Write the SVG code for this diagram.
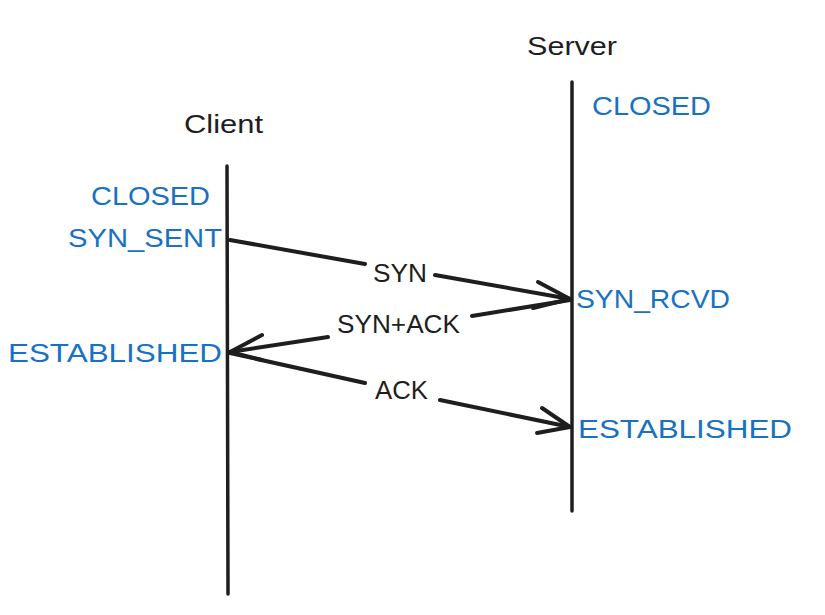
<svg xmlns="http://www.w3.org/2000/svg" width="825" height="615" viewBox="0 0 825 615">
<style>
.lbl{font-family:"Liberation Sans",Arial,sans-serif;font-size:26px;fill:#1e1e1e}
.st{font-family:"Liberation Sans",Arial,sans-serif;font-size:26px;fill:#1971c2}
.life{stroke:#1e1e1e;stroke-width:3.5;stroke-linecap:round;fill:none}
.msg{stroke:#1e1e1e;stroke-width:4;stroke-linecap:round;stroke-linejoin:round;fill:none}
</style>
<rect width="825" height="615" fill="#ffffff"/>
<g id="client">
<line class="life" x1="227" y1="166" x2="228" y2="594"/>
<text class="lbl" x="184" y="133" textLength="79" lengthAdjust="spacingAndGlyphs">Client</text>
<text class="st" x="91" y="205" textLength="119" lengthAdjust="spacingAndGlyphs">CLOSED</text>
<text class="st" x="68" y="247" textLength="154" lengthAdjust="spacingAndGlyphs">SYN_SENT</text>
<text class="st" x="8" y="362" textLength="214" lengthAdjust="spacingAndGlyphs">ESTABLISHED</text>
</g>
<g id="server">
<line class="life" x1="572" y1="82" x2="572" y2="511"/>
<text class="lbl" x="527" y="55" textLength="90" lengthAdjust="spacingAndGlyphs">Server</text>
<text class="st" x="592" y="115" textLength="119" lengthAdjust="spacingAndGlyphs">CLOSED</text>
<text class="st" x="576" y="308" textLength="154" lengthAdjust="spacingAndGlyphs">SYN_RCVD</text>
<text class="st" x="578" y="438" textLength="214" lengthAdjust="spacingAndGlyphs">ESTABLISHED</text>
</g>
<g id="connectors">
<g id="syn">
<path class="msg" d="M230 240 L365 264 M435 275 L570 299"/>
<path class="msg" d="M538 282 L570 299 L533 308"/>
<text class="lbl" x="373" y="282" textLength="54" lengthAdjust="spacingAndGlyphs">SYN</text>
</g>
<g id="synack">
<path class="msg" d="M570 300 L472 316 M328 337 L230 352"/>
<path class="msg" d="M262 335 L230 352 L262 360"/>
<text class="lbl" x="337" y="333" textLength="123" lengthAdjust="spacingAndGlyphs">SYN+ACK</text>
</g>
<g id="ack">
<path class="msg" d="M230 353 L365 383 M440 400 L570 427"/>
<path class="msg" d="M542 408 L570 427 L537 433"/>
<text class="lbl" x="375" y="399" textLength="53" lengthAdjust="spacingAndGlyphs">ACK</text>
</g>
</g>
</svg>
